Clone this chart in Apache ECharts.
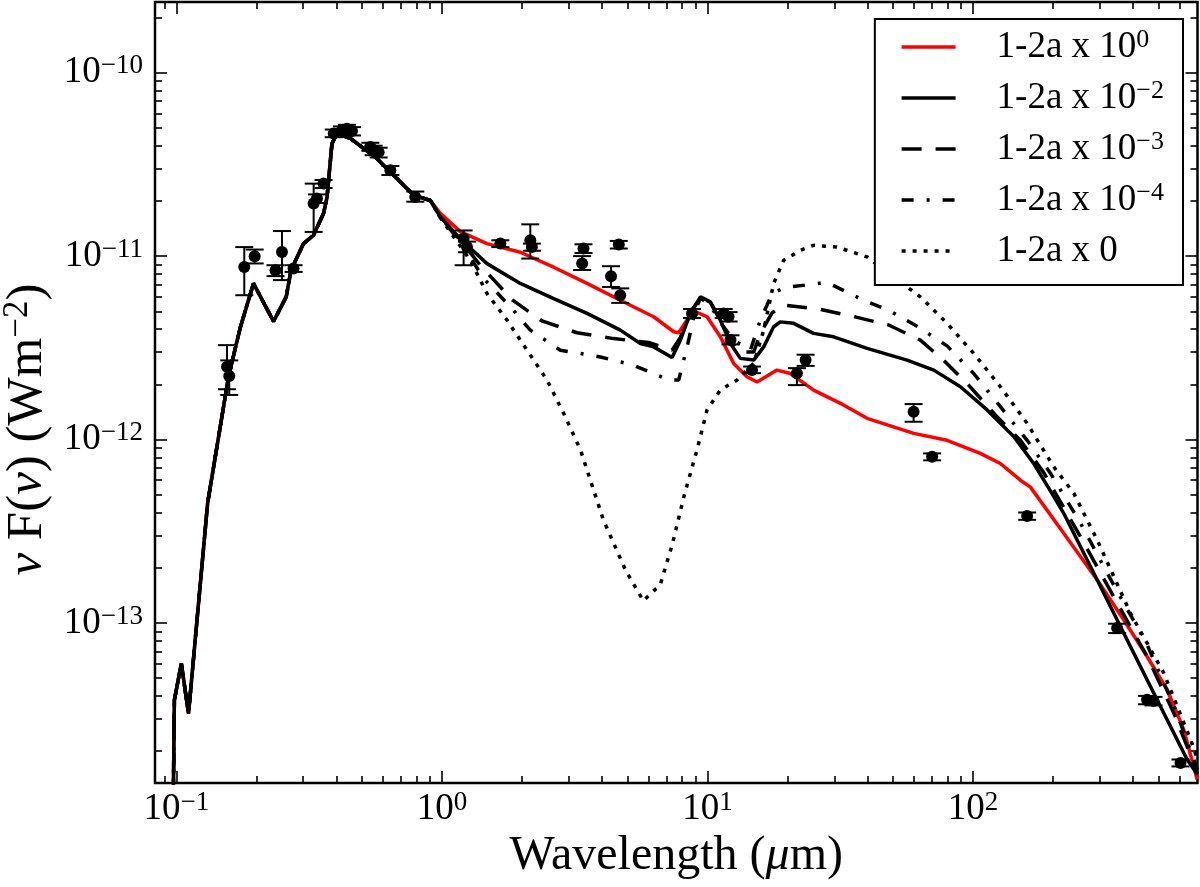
<!DOCTYPE html>
<html><head><meta charset="utf-8">
<script src="https://cdn.jsdelivr.net/npm/echarts@6/dist/echarts.min.js"></script>
<style>html,body{margin:0;padding:0;background:#fff}#c{width:1200px;height:887px}</style>
</head><body><div id="c"></div>
<script>
// ---- axis ranges & ticks ----
const X_MIN = 0.083, X_MAX = 700;
const Y_MIN = 1.34e-14, Y_MAX = 2.43e-10;
const xMajorTicks = [0.1, 1, 10, 100];
const xMinorTicks = [0.09, 0.2, 0.3, 0.4, 0.5, 0.6, 0.7, 0.8, 0.9, 2, 3, 4, 5, 6, 7, 8, 9,
  20, 30, 40, 50, 60, 70, 80, 90, 200, 300, 400, 500, 600];
const yMajorTicks = [1e-13, 1e-12, 1e-11, 1e-10];
const yMinorTicks = [2e-14, 3e-14, 4e-14, 5e-14, 6e-14, 7e-14, 8e-14, 9e-14,
  2e-13, 3e-13, 4e-13, 5e-13, 6e-13, 7e-13, 8e-13, 9e-13,
  2e-12, 3e-12, 4e-12, 5e-12, 6e-12, 7e-12, 8e-12, 9e-12,
  2e-11, 3e-11, 4e-11, 5e-11, 6e-11, 7e-11, 8e-11, 9e-11, 2e-10];

// ---- model curves [wavelength (um), nuFnu (W m^-2)] ----
const sharedUV = [[0.0972, 1.0e-14], [0.0982, 3.8e-14], [0.1043, 6.0e-14], [0.111, 3.2e-14], [0.131, 4.5e-13],
  [0.157, 2.2e-12], [0.174, 4.1e-12], [0.195, 7.1e-12], [0.232, 4.4e-12], [0.259, 6.0e-12], [0.270, 8.4e-12],
  [0.301, 1.17e-11], [0.328, 1.30e-11], [0.358, 1.71e-11], [0.369, 2.10e-11], [0.385, 4.10e-11], [0.402, 4.66e-11],
  [0.452, 4.38e-11], [0.569, 3.40e-11], [0.782, 2.15e-11], [0.904, 2.01e-11]];

const tail_1e0 = [[0.985, 1.71e-11], [1.172, 1.36e-11], [1.477, 1.17e-11], [1.972, 1.05e-11], [2.633, 8.7e-12],
  [3.517, 7.1e-12], [4.694, 5.75e-12], [6.266, 4.67e-12], [7.453, 3.87e-12], [7.785, 3.82e-12], [8.373, 4.48e-12],
  [9.131, 4.93e-12], [9.957, 4.67e-12], [11.17, 3.63e-12], [12.54, 2.60e-12], [14.08, 2.20e-12], [15.36, 2.06e-12],
  [18.27, 2.39e-12], [20.51, 2.29e-12], [25.09, 1.86e-12], [31.64, 1.575e-12], [39.89, 1.305e-12], [59.75, 1.08e-12],
  [79.8, 9.9e-13], [106.5, 8.4e-13], [126.7, 7.4e-13], [150.7, 6.0e-13], [164.4, 5.5e-13], [219.4, 3.08e-13],
  [293.1, 1.72e-13], [369.2, 1.04e-13], [452.2, 6.56e-14], [538, 4.32e-14], [621.3, 2.62e-14], [698, 1.40e-14]];

const tail_1em2 = [[0.985, 1.64e-11], [1.172, 1.24e-11], [1.477, 9.1e-12], [1.972, 7.1e-12], [2.633, 5.87e-12],
  [3.517, 4.87e-12], [4.694, 3.95e-12], [5.583, 3.34e-12], [6.266, 3.20e-12], [7.35, 2.80e-12], [7.90, 3.48e-12],
  [8.61, 4.87e-12], [9.40, 6.0e-12], [10.24, 5.63e-12], [11.17, 4.48e-12], [12.19, 3.34e-12], [13.29, 2.77e-12],
  [14.92, 2.71e-12], [16.27, 3.20e-12], [17.74, 4.12e-12], [18.80, 4.38e-12], [21.10, 4.30e-12], [25.09, 3.79e-12],
  [29.85, 3.63e-12], [39.89, 3.14e-12], [56.4, 2.71e-12], [71.1, 2.39e-12], [89.6, 1.94e-12], [112.9, 1.45e-12],
  [142.2, 1.04e-12], [169.1, 7.4e-13], [201.2, 4.9e-13], [219.4, 3.96e-13], [293.1, 1.72e-13], [391.3, 7.44e-14],
  [522.4, 3.23e-14], [639.7, 1.80e-14], [700, 1.49e-14]];

const tail_1em3 = [[0.985, 1.64e-11], [1.172, 1.22e-11], [1.394, 8.9e-12], [1.845, 5.75e-12], [2.38, 4.43e-12],
  [3.225, 3.82e-12], [4.43, 3.55e-12], [6.0, 3.38e-12], [7.35, 3.07e-12], [7.90, 3.6e-12], [8.61, 4.9e-12],
  [9.40, 5.95e-12], [10.24, 5.6e-12], [11.17, 4.48e-12], [12.19, 3.48e-12], [13.29, 3.0e-12], [14.92, 3.0e-12],
  [15.81, 3.79e-12], [17.5, 4.9e-12], [19.35, 5.40e-12], [26.2, 5.14e-12], [35.0, 4.71e-12], [48.1, 4.21e-12],
  [63.3, 3.48e-12], [78.6, 2.65e-12], [96.2, 1.98e-12], [121.3, 1.36e-12], [150.7, 9.9e-13], [184.5, 6.6e-13],
  [253.7, 2.95e-13], [338.5, 1.39e-13], [452.2, 6.56e-14], [569.6, 3.23e-14], [677.5, 1.72e-14], [700, 1.5e-14]];

const tail_1em4 = [[0.985, 1.62e-11], [1.172, 1.2e-11], [1.435, 7.55e-12], [1.808, 5.29e-12], [2.15, 3.95e-12],
  [2.79, 3.07e-12], [3.95, 2.82e-12], [5.27, 2.54e-12], [6.266, 2.29e-12], [7.14, 2.11e-12], [7.785, 2.11e-12],
  [8.373, 3.20e-12], [9.0, 5.07e-12], [9.40, 5.9e-12], [10.24, 5.4e-12], [11.17, 4.35e-12], [12.54, 3.48e-12],
  [14.5, 3.07e-12], [15.81, 4.48e-12], [17.5, 6.25e-12], [19.63, 6.75e-12], [28.2, 7.18e-12], [38.7, 5.75e-12],
  [48.1, 5.07e-12], [61.5, 4.15e-12], [79.8, 3.24e-12], [100.5, 2.29e-12], [126.7, 1.51e-12], [159.8, 9.9e-13],
  [195.5, 6.55e-13], [253.7, 3.5e-13], [338.5, 1.61e-13], [452.2, 7.6e-14], [578, 3.37e-14], [700, 1.58e-14]];

const tail_0 = [[0.985, 1.62e-11], [1.278, 9.5e-12], [1.477, 6.25e-12], [1.757, 4.48e-12], [2.09, 3.07e-12],
  [2.486, 2.11e-12], [2.87, 1.39e-12], [3.32, 8.8e-13], [4.05, 3.65e-13], [4.90, 1.95e-13], [5.73, 1.32e-13],
  [6.64, 1.62e-13], [7.36, 2.67e-13], [8.18, 5.0e-13], [9.131, 8.8e-13], [9.957, 1.45e-12], [11.17, 1.86e-12],
  [12.91, 2.11e-12], [14.92, 2.60e-12], [16.27, 3.95e-12], [17.74, 7.1e-12], [19.35, 9.5e-12], [22.4, 1.076e-11],
  [25.1, 1.146e-11], [30.7, 1.12e-11], [39.89, 9.9e-12], [50.2, 7.7e-12], [63.3, 6.0e-12], [79.8, 4.3e-12],
  [100.5, 2.95e-12], [126.7, 1.94e-12], [159.8, 1.225e-12], [201.2, 7.1e-13], [239.3, 5.1e-13], [293.1, 2.84e-13],
  [391.3, 1.13e-13], [522.4, 5.33e-14], [659.6, 2.31e-14], [700, 1.8e-14]];

// ---- observations ----
const obsWl = [0.155, 0.158, 0.180, 0.197, 0.236, 0.2496, 0.276, 0.3285, 0.338, 0.358, 0.391, 0.42, 0.4385, 0.458,
  0.537, 0.5525, 0.577, 0.639, 0.793, 1.206, 1.242, 1.658, 2.15, 2.18, 3.41, 3.37, 4.63, 4.33, 4.69, 8.74,
  11.5, 12.0, 12.2, 14.7, 23.4, 21.7, 59.7, 70.1, 159.8, 348.7, 452, 478, 604];
const obsF = [2.49e-12, 2.22e-12, 8.73e-12, 9.99e-12, 8.37e-12, 1.054e-11, 8.56e-12, 1.934e-11, 2.06e-11, 2.485e-11,
  4.66e-11, 4.85e-11, 4.95e-11, 4.81e-11, 3.94e-11, 3.78e-11, 3.69e-11, 2.94e-11, 2.10e-11, 1.247e-11, 1.12e-11,
  1.171e-11, 1.22e-11, 1.12e-11, 1.10e-11, 9.11e-12, 1.156e-11, 7.77e-12, 6.12e-12, 4.87e-12, 4.87e-12, 4.67e-12,
  3.49e-12, 2.39e-12, 2.71e-12, 2.30e-12, 1.417e-12, 8.06e-13, 3.83e-13, 9.37e-14, 3.81e-14, 3.75e-14, 1.72e-14];
const obsLo = [1.88e-12, 1.75e-12, 6.12e-12, 9.12e-12, 7.78e-12, 7.40e-12, 8.2e-12, 1.355e-11, 1.95e-11, 2.35e-11,
  4.45e-11, 4.6e-11, 4.7e-11, 4.55e-11, 3.75e-11, 3.55e-11, 3.45e-11, 2.77e-11, 1.98e-11, 8.92e-12, 1.05e-11,
  1.12e-11, 9.7e-12, 1.07e-11, 1.04e-11, 8.4e-12, 1.1e-11, 6.79e-12, 5.56e-12, 4.6e-12, 4.6e-12, 4.4e-12,
  3.3e-12, 2.3e-12, 2.52e-12, 1.98e-12, 1.25e-12, 7.7e-13, 3.65e-13, 8.8e-14, 3.6e-14, 3.55e-14, 1.65e-14];
const obsHi = [3.27e-12, 2.7e-12, 1.12e-11, 1.086e-11, 8.92e-12, 1.37e-11, 8.92e-12, 2.485e-11, 2.17e-11, 2.6e-11,
  4.9e-11, 5.1e-11, 5.2e-11, 5.05e-11, 4.15e-11, 4.0e-11, 3.9e-11, 3.1e-11, 2.25e-11, 1.38e-11, 1.2e-11,
  1.22e-11, 1.49e-11, 1.17e-11, 1.16e-11, 1.0e-11, 1.21e-11, 8.81e-12, 6.67e-12, 5.15e-12, 5.15e-12, 4.95e-12,
  3.7e-12, 2.5e-12, 2.9e-12, 2.45e-12, 1.56e-12, 8.4e-13, 4.0e-13, 9.9e-14, 4.0e-14, 3.95e-14, 1.8e-14];

// ---- legend labels ----
const seriesNames = ['1-2a x 10^0', '1-2a x 10^-2', '1-2a x 10^-3', '1-2a x 10^-4', '1-2a x 0'];
const legendRich = {
  '1-2a x 10^0': '{t|1-2a x 10}{s|0}',
  '1-2a x 10^-2': '{t|1-2a x 10}{s|\u22122}',
  '1-2a x 10^-3': '{t|1-2a x 10}{s|\u22123}',
  '1-2a x 10^-4': '{t|1-2a x 10}{s|\u22124}',
  '1-2a x 0': '{t|1-2a x 0}'
};

const FONT = 'Liberation Serif';
const powLabel = v => {
  const e = Math.round(Math.log10(v));
  return '{b|10}{s|' + (e < 0 ? '\u2212' + (-e) : String(e)) + '}';
};
const tickRich = {
  b: { fontFamily: FONT, fontSize: 37, lineHeight: 40, color: '#000' },
  s: { fontFamily: FONT, fontSize: 27, lineHeight: 22, verticalAlign: 'top', color: '#000' }
};

function mkX(position, ticks, len, withLabel, extra) {
  return Object.assign({
    type: 'log', logBase: 10, min: X_MIN, max: X_MAX, position: position, gridIndex: 0,
    axisLine: { show: false }, splitLine: { show: false }, minorTick: { show: false },
    axisTick: { show: true, inside: true, length: len, customValues: ticks, lineStyle: { color: '#000', width: 1.6 } },
    axisLabel: withLabel ? {
      show: true, customValues: xMajorTicks, formatter: powLabel, margin: 6, rich: tickRich, color: '#000'
    } : { show: false }
  }, extra || {});
}
function mkY(position, ticks, len, withLabel, extra) {
  return Object.assign({
    type: 'log', logBase: 10, min: Y_MIN, max: Y_MAX, position: position, gridIndex: 0,
    axisLine: { show: false }, splitLine: { show: false }, minorTick: { show: false },
    axisTick: { show: true, inside: true, length: len, customValues: ticks, lineStyle: { color: '#000', width: 1.6 } },
    axisLabel: withLabel ? {
      show: true, customValues: yMajorTicks, formatter: powLabel, margin: 12, rich: tickRich, color: '#000'
    } : { show: false }
  }, extra || {});
}

function lineSeries(name, data, color, type) {
  return {
    type: 'line', name: name, data: data, xAxisIndex: 0, yAxisIndex: 0,
    symbol: 'none', showSymbol: false, clip: true, animation: false, smooth: false,
    lineStyle: { color: color, width: 3.5, type: type, cap: 'butt' },
    itemStyle: { color: color }, emphasis: { disabled: true }
  };
}

const chart = echarts.init(document.getElementById('c'), null, { renderer: 'canvas' });
chart.setOption({
  animation: false,
  backgroundColor: '#fff',
  grid: { left: 155, right: 2.5, top: 2, bottom: 104, show: true, borderColor: '#000', borderWidth: 2.5,
    backgroundColor: 'transparent', containLabel: false, outerBoundsMode: 'none' },
  xAxis: [
    mkX('bottom', xMajorTicks, 12, true, {
      name: '{n|Wavelength (}{m|\u03bc}{n|m)}', nameLocation: 'middle', nameGap: 35,
      nameTextStyle: { color: '#000', rich: {
        n: { fontFamily: FONT, fontSize: 48, lineHeight: 50, color: '#000' },
        m: { fontFamily: FONT, fontSize: 48, lineHeight: 50, fontStyle: 'italic', color: '#000' } } }
    }),
    mkX('bottom', xMinorTicks, 7, false),
    mkX('top', xMajorTicks, 12, false),
    mkX('top', xMinorTicks, 7, false)
  ],
  yAxis: [
    mkY('left', yMajorTicks, 12, true, {
      name: '{m|\u03bd}{n| F(}{m|\u03bd}{n|) (Wm}{s|\u22122}{n|)}', nameLocation: 'middle', nameGap: 100,
      nameTextStyle: { color: '#000', padding: [0, 74, 0, 0], rich: {
        n: { fontFamily: FONT, fontSize: 51, lineHeight: 54, color: '#000' },
        m: { fontFamily: FONT, fontSize: 51, lineHeight: 54, fontStyle: 'italic', color: '#000' },
        s: { fontFamily: FONT, fontSize: 35, lineHeight: 30, verticalAlign: 'top', color: '#000' } } }
    }),
    mkY('left', yMinorTicks, 7, false),
    mkY('right', yMajorTicks, 12, false),
    mkY('right', yMinorTicks, 7, false)
  ],
  legend: {
    data: seriesNames, orient: 'vertical', right: 17, top: 19,
    padding: [8, 19, 14, 25], itemGap: 11, itemWidth: 54, itemHeight: 14,
    borderColor: '#000', borderWidth: 2, backgroundColor: '#fff', borderRadius: 0,
    selectedMode: false, itemStyle: { opacity: 0 }, lineStyle: { width: 3.5 },
    formatter: n => legendRich[n],
    textStyle: { color: '#000', fontFamily: FONT, fontSize: 37, lineHeight: 40, rich: {
      t: { fontFamily: FONT, fontSize: 37, lineHeight: 40, padding: [0, 0, 0, 36], color: '#000' },
      s: { fontFamily: FONT, fontSize: 26, lineHeight: 22, verticalAlign: 'top', color: '#000' } } }
  },
  series: [
    lineSeries(seriesNames[0], sharedUV.concat(tail_1e0), '#ff0000', 'solid'),
    lineSeries(seriesNames[1], sharedUV.concat(tail_1em2), '#000000', 'solid'),
    lineSeries(seriesNames[2], sharedUV.concat(tail_1em3), '#000000', [20, 14]),
    lineSeries(seriesNames[3], sharedUV.concat(tail_1em4), '#000000', [12, 13, 3, 13]),
    lineSeries(seriesNames[4], sharedUV.concat(tail_0), '#000000', [4, 7]),
    {
      type: 'custom', name: 'errorbars', xAxisIndex: 0, yAxisIndex: 0, z: 5, animation: false, clip: true,
      data: obsWl.map((w, i) => [w, obsLo[i], obsHi[i]]),
      encode: { x: 0, y: [1, 2] },
      renderItem: function (params, api) {
        const x = api.value(0);
        const lo = api.coord([x, api.value(1)]);
        const hi = api.coord([x, api.value(2)]);
        const cw = 9;
        const st = { stroke: '#000', lineWidth: 2 };
        return { type: 'group', children: [
          { type: 'line', shape: { x1: lo[0], y1: lo[1], x2: hi[0], y2: hi[1] }, style: st },
          { type: 'line', shape: { x1: lo[0] - cw, y1: lo[1], x2: lo[0] + cw, y2: lo[1] }, style: st },
          { type: 'line', shape: { x1: hi[0] - cw, y1: hi[1], x2: hi[0] + cw, y2: hi[1] }, style: st }
        ] };
      }
    },
    {
      type: 'scatter', name: 'obs', xAxisIndex: 0, yAxisIndex: 0, z: 6, animation: false,
      data: obsWl.map((w, i) => [w, obsF[i]]), symbol: 'circle', symbolSize: 12,
      itemStyle: { color: '#000', opacity: 1 }, emphasis: { disabled: true }
    }
  ]
});
</script></body></html>
